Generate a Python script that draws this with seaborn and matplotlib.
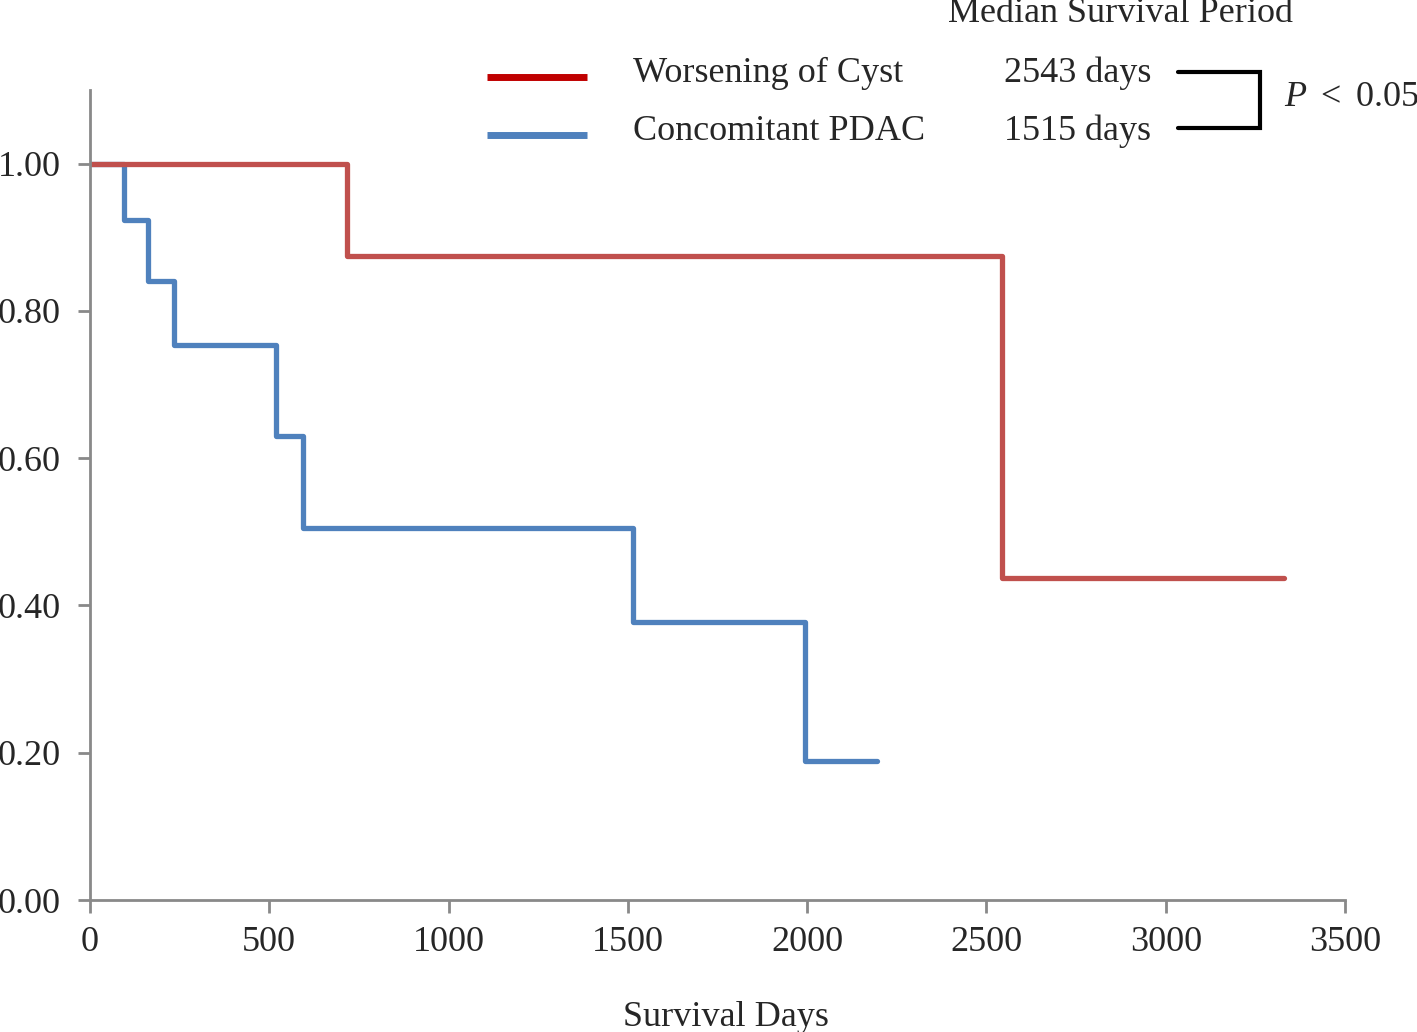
import matplotlib
matplotlib.use('Agg')
import matplotlib.pyplot as plt
import seaborn as sns
import pandas as pd

# Kaplan-Meier step values
cyst_days = [0, 717, 2543, 3330]
cyst_surv = [1.0, 0.875, 0.437, 0.437]

pdac_days = [0, 95, 162, 234, 519, 594, 1515, 1994, 2195]
pdac_surv = [1.0, 0.923, 0.840, 0.754, 0.630, 0.505, 0.377, 0.189, 0.189]

group_names = ["Worsening of Cyst", "Concomitant PDAC"]
median_days = ["2543 days", "1515 days"]
curve_colors = ["#C0504D", "#4F81BD"]
legend_colors = ["#C00000", "#4F81BD"]

x_ticks = [0, 500, 1000, 1500, 2000, 2500, 3000, 3500]
y_ticks = [0.0, 0.2, 0.4, 0.6, 0.8, 1.0]

df = pd.concat([
    pd.DataFrame({"days": cyst_days, "surv": cyst_surv, "group": group_names[0]}),
    pd.DataFrame({"days": pdac_days, "surv": pdac_surv, "group": group_names[1]}),
])

sns.set_style("white")
plt.rcParams['font.family'] = ['Liberation Serif', 'DejaVu Serif']
plt.rcParams['mathtext.fontset'] = 'custom'
plt.rcParams['mathtext.it'] = 'Liberation Serif:italic'
plt.rcParams['mathtext.rm'] = 'Liberation Serif'

fig = plt.figure(figsize=(14.17, 10.32), dpi=100)
ax = fig.add_axes([0.0635, 0.1279, 0.8857, 0.7849])

# blue drawn first so the red curve sits on top at 1.00
palette = dict(zip(group_names, curve_colors))
sns.lineplot(data=df, x="days", y="surv", hue="group", palette=palette,
             hue_order=group_names[::-1],
             drawstyle="steps-post", estimator=None, sort=False,
             linewidth=3.8, legend=False, ax=ax)

ax.set_xlim(0, 3500)
ax.set_ylim(0, 1.1)
ax.set_xticks(x_ticks)
ax.set_xticklabels([str(t) for t in x_ticks])
ax.set_yticks(y_ticks)
ax.set_yticklabels([f"{t:.2f}" for t in y_ticks])
ax.tick_params(axis="both", direction="out", length=9, width=2, color="#898989",
               labelsize=26, bottom=True, left=True)
ax.tick_params(axis="y", pad=12)
ax.tick_params(axis="x", pad=10)
for s in ["top", "right"]:
    ax.spines[s].set_visible(False)
for s in ["left", "bottom"]:
    ax.spines[s].set_color("#898989")
    ax.spines[s].set_linewidth(2)
ax.set_xlabel("Survival Days", fontsize=26)
ax.xaxis.set_label_coords((726 - 90) / 1255, -0.125)
ax.set_ylabel("")

# legend / annotation block in figure pixels
W, H = 1417, 1032
def fx(px):
    return px / W
def fy(py):
    return 1 - py / H

fig.text(fx(1120), fy(14), "Median Survival Period", fontsize=26, ha="center", va="center")
for i, (name, md) in enumerate(zip(group_names, median_days)):
    yy = [73, 131][i]
    fig.add_artist(plt.Line2D([fx(487), fx(587)], [fy(yy + 4), fy(yy + 4)],
                              color=legend_colors[i], linewidth=5,
                              solid_capstyle="butt"))
    fig.text(fx(633), fy(yy), name, fontsize=26, ha="left", va="center")
    fig.text(fx(1004), fy(yy), md, fontsize=26, ha="left", va="center")

fig.add_artist(plt.Line2D([fx(1178), fx(1260), fx(1260), fx(1178)],
                          [fy(72), fy(72), fy(128), fy(128)],
                          color="black", linewidth=3, solid_joinstyle="miter"))
fig.text(fx(1284), fy(98), r"$P$ $<$ 0.05", fontsize=26, ha="left", va="center")

fig.savefig("out.png", dpi=100)
